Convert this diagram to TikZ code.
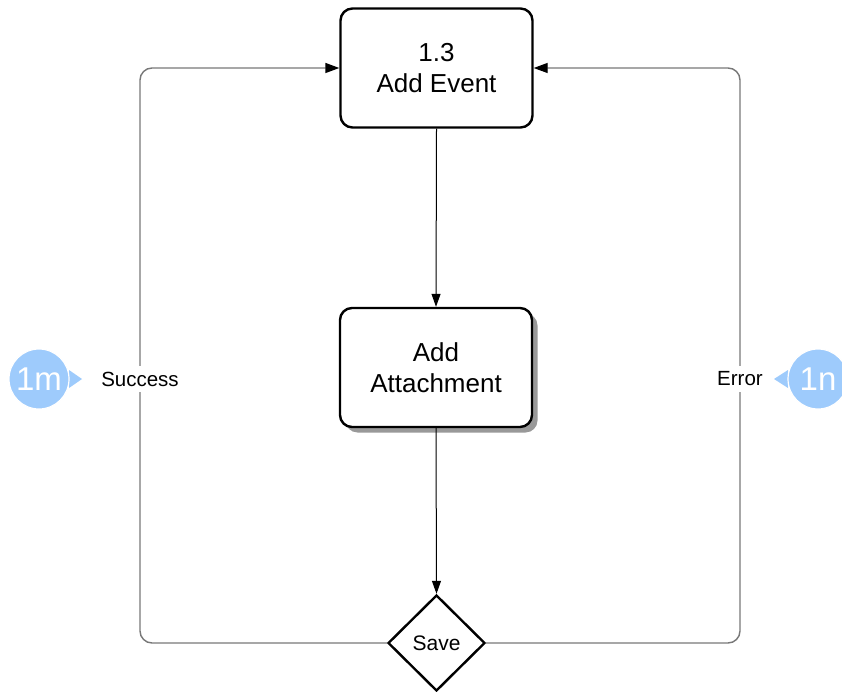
\documentclass[tikz,border=0pt]{standalone}
\usepackage{fontspec}
\setmainfont{Liberation Sans}
\usetikzlibrary{shapes.geometric,arrows.meta,shadows}
\definecolor{badge}{RGB}{158,203,252}
\definecolor{loopgray}{RGB}{120,120,120}
\tikzset{
  procbox/.style={draw=black, line width=2.4pt, rounded corners=12pt, fill=white,
    minimum width=192pt, minimum height=119pt, align=center, inner sep=0pt,
    font=\fontsize{26}{31}\selectfont},
  decision/.style={diamond, draw=black, line width=2.4pt, fill=white, aspect=1,
    minimum width=97pt, minimum height=96pt, inner sep=0pt,
    font=\fontsize{21}{25}\selectfont},
  flowarrow/.style={draw=black, line width=1pt, -{Triangle[length=13pt,width=9pt]}},
  looparrow/.style={draw=loopgray, line width=1.4pt, rounded corners=12pt,
    -{Triangle[length=14pt,width=10pt,color=black]}},
  looplabel/.style={fill=white, inner xsep=2pt, inner ysep=6pt,
    font=\fontsize{20.5}{24}\selectfont},
  badgecircle/.style={circle, fill=badge, draw=white, line width=1.2pt,
    minimum size=60pt, inner sep=0pt, text=white,
    font=\fontsize{33}{36}\selectfont},
}
\begin{document}
\begin{tikzpicture}[x=1pt,y=-1pt]
\useasboundingbox (0,0) rectangle (842,692);
\clip (0,0) rectangle (842,692);
\fill[white] (0,0) rectangle (842,692);

% nodes
\node[procbox] (top) at (436.5,68) {1.3\\Add Event};
\node[procbox, drop shadow={shadow xshift=5.5pt, shadow yshift=-5.5pt, fill=black!40, opacity=1}] (mid) at (436,367.5) {Add\\Attachment};
\node[decision] (dia) at (436.5,643) {Save};

\coordinate (lcorner) at (140,68);
\coordinate (rcorner) at (740,68);

% connectors
\draw[flowarrow] (top.south) -- (mid.north);
\draw[flowarrow] (mid.south) -- (dia.north);
\draw[looparrow] (dia.west) -| (lcorner) -- (top.west);
\draw[looparrow] (dia.east) -| (rcorner) -- (top.east);

% labels
\node[looplabel] (succ) at (140,379) {Success};
\node[looplabel] (err) at (740,379) {Error};

% badges
\fill[badge] (69,370) -- (82,379) -- (69,388) -- cycle;
\node[badgecircle] (b1m) at (39,379) {1m};
\fill[badge] (788,370) -- (774,379) -- (788,388) -- cycle;
\node[badgecircle] (b1n) at (818,379) {1n};
\end{tikzpicture}
\end{document}
